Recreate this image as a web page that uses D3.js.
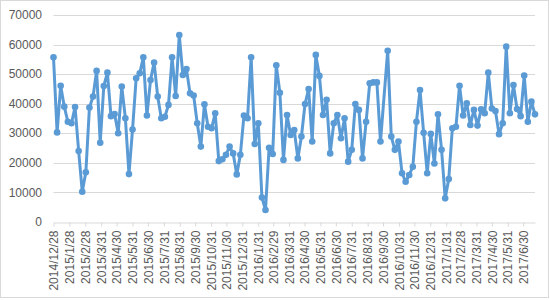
<!DOCTYPE html>
<meta charset="utf-8">
<html lang="zh">
<head>
	<title>weekly line</title>
	<script src="https://d3js.org/d3.v7.min.js"></script>
	<style>
		body { margin: 0; background: #fff; }
		text { font-family: "Liberation Sans", Arial, sans-serif; fill: #595959; }
	</style>
</head>
<body>
	<script>
var startDate = "2014/12/28";  // first week, one value per week after it

// weekly values, null = week with no data (line just joins across it)
var values = [
  55700, 30300, 46100, 39000, 33900, 33400, 38900, 24000, 10250, 16800,
  38700, 42400, 51100, 26800, 46000, 50500, 35800, 36500, 30000, 45800,
  35100, 16200, 31300, 48600, 50300, 55700, 36000, 48000, 53900, 42400,
  35100, 35600, 39600, 55700, 42600, 63200, 49700, 51700, 43500, 42800,
  33400, 25500, 39800, 32200, 31700, 36800, 20600, 21200, 22700, 25500,
  23200, 16100, 22700, 36000, 35100, 55700, 26400, 33400, 8300, 4060,
  25100, 23000, 53000, 43700, 21000, 36200, 29400, 31100, 21500, 28900,
  39900, 45000, 27200, 56500, 49400, 36200, 41300, 23200, 33400, 36200,
  28300, 35100, 20400, 24400, 39900, 37900, 21500, 33900, 46900, 47200,
  47200, 27200, null, 57900, 28900, 24400, 27200, 16500, 13600, 15900,
  18700, 33900, 44600, 30200, 16500, 29800, 19800, 36400, 24400, 8000,
  14500, 31700, 32200, 46100, 36000, 40100, 32800, 37900, 32600, 38100,
  36800, 50500, 38400, 37500, 29700, 33400, 59300, 36800, 46300, 38200,
  35800, 49500, 33900, 40700, 36400
];

var tickLabels = [
  "2014/12/28", "2015/1/28", "2015/2/28", "2015/3/31", "2015/4/30", "2015/5/31",
  "2015/6/30", "2015/7/31", "2015/8/31", "2015/9/30", "2015/10/31", "2015/11/30",
  "2015/12/31", "2016/1/31", "2016/2/29", "2016/3/31", "2016/4/30", "2016/5/31",
  "2016/6/30", "2016/7/31", "2016/8/31", "2016/9/30", "2016/10/31", "2016/11/30",
  "2016/12/31", "2017/1/31", "2017/2/28", "2017/3/31", "2017/4/30", "2017/5/31",
  "2017/6/30"
];

var yTicks = [0, 10000, 20000, 30000, 40000, 50000, 60000, 70000];

var width = 550, height = 300;
var plotLeft = 53.5, plotRight = 535, plotTop = 15, plotBottom = 222;

var parse = d3.timeParse("%Y/%m/%d");
var t0 = parse(startDate);

var data = values.map(function(v, i) {
  return { date: d3.timeDay.offset(t0, i * 7), value: v };
});
var points = data.filter(function(d) { return d.value != null; });

var x = d3.scaleTime()
    .domain([t0, data[data.length - 1].date])
    .range([plotLeft, plotRight]);

var y = d3.scaleLinear()
    .domain([0, 70000])
    .range([plotBottom, plotTop]);

var svg = d3.select("body").append("svg")
    .attr("width", width)
    .attr("height", height);

// chart area border
svg.append("rect")
    .attr("x", 0.5).attr("y", 0.5)
    .attr("width", width - 2).attr("height", height - 3)
    .attr("fill", "#fff")
    .attr("stroke", "#d9d9d9");

// gridlines
svg.append("g")
  .selectAll("line")
    .data(yTicks.slice(1))
  .enter().append("line")
    .attr("x1", plotLeft).attr("x2", plotRight)
    .attr("y1", function(d) { return Math.round(y(d)) + 0.5; })
    .attr("y2", function(d) { return Math.round(y(d)) + 0.5; })
    .attr("stroke", "#d9d9d9");

// y labels
svg.append("g")
  .selectAll("text")
    .data(yTicks)
  .enter().append("text")
    .attr("x", 42)
    .attr("y", function(d) { return y(d); })
    .attr("dy", "0.35em")
    .attr("text-anchor", "end")
    .style("font-size", "12px")
    .text(function(d) { return d; });

// x axis
var xAxis = d3.axisBottom(x)
    .tickValues(tickLabels.map(parse))
    .tickSize(4)
    .tickSizeOuter(0)
    .tickFormat(function(d, i) { return tickLabels[i]; });

var gx = svg.append("g")
    .attr("transform", "translate(0," + (Math.round(plotBottom) + 0.5) + ")")
    .call(xAxis);
gx.select(".domain").attr("stroke", "#d9d9d9");
gx.selectAll(".tick line").attr("stroke", "#d9d9d9");
gx.selectAll(".tick text")
    .attr("fill", "#595959")
    .style("font-family", "\"Liberation Sans\", Arial, sans-serif")
    .style("font-size", "12px")
    .attr("text-anchor", "end")
    .attr("transform", "rotate(-90)")
    .attr("x", -8)
    .attr("y", 0)
    .attr("dy", "0.35em");

// series
var line = d3.line()
    .x(function(d) { return x(d.date); })
    .y(function(d) { return y(d.value); });

svg.append("path")
    .datum(points)
    .attr("d", line)
    .attr("fill", "none")
    .attr("stroke", "#5b9bd5")
    .attr("stroke-width", 3)
    .attr("stroke-linejoin", "round");

svg.append("g")
  .selectAll("circle")
    .data(points)
  .enter().append("circle")
    .attr("cx", function(d) { return x(d.date); })
    .attr("cy", function(d) { return y(d.value); })
    .attr("r", 3.3)
    .attr("fill", "#5b9bd5");
	</script>
</body>
</html>
